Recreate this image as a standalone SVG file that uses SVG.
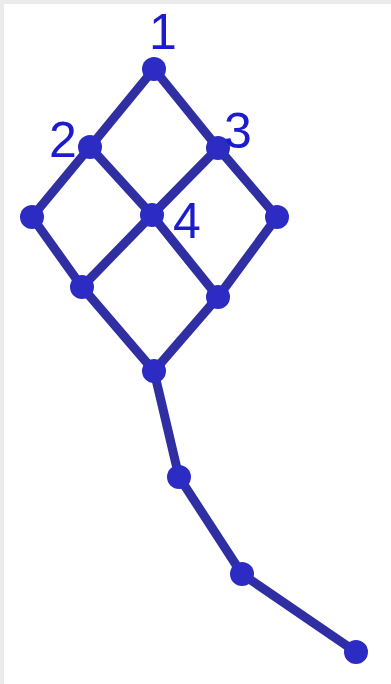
<svg xmlns="http://www.w3.org/2000/svg" width="391" height="684" viewBox="0 0 391 684">
<style>
.e{stroke:#2F2FA3;stroke-width:9;stroke-linecap:round;fill:none}
.n{fill:#2C2CC4}
.t{font-family:"Liberation Sans",Arial,sans-serif;font-size:50px;fill:#1C1CCC}
</style>
<rect width="391" height="684" fill="#EBEBEB"/>
<rect x="4" y="4" width="387" height="680" fill="#FFFFFF"/>
<g id="connectors">
<line class="e" x1="154" y1="69" x2="90" y2="147"/>
<line class="e" x1="154" y1="69" x2="218" y2="148"/>
<line class="e" x1="90" y1="147" x2="32" y2="217"/>
<line class="e" x1="90" y1="147" x2="152" y2="215"/>
<line class="e" x1="218" y1="148" x2="152" y2="215"/>
<line class="e" x1="218" y1="148" x2="277" y2="217"/>
<line class="e" x1="32" y1="217" x2="82" y2="287"/>
<line class="e" x1="152" y1="215" x2="82" y2="287"/>
<line class="e" x1="152" y1="215" x2="218" y2="297"/>
<line class="e" x1="277" y1="217" x2="218" y2="297"/>
<line class="e" x1="82" y1="287" x2="154" y2="371"/>
<line class="e" x1="218" y1="297" x2="154" y2="371"/>
<line class="e" x1="154" y1="371" x2="179" y2="477"/>
<line class="e" x1="179" y1="477" x2="242" y2="574"/>
<line class="e" x1="242" y1="574" x2="356" y2="652"/>
</g>
<g id="n1"><circle class="n" cx="154" cy="69" r="12"/><text class="t" x="163" y="49" text-anchor="middle">1</text></g>
<g id="n2"><circle class="n" cx="90" cy="147" r="12"/><text class="t" x="63" y="157" text-anchor="middle">2</text></g>
<g id="n3"><circle class="n" cx="218" cy="148" r="12"/><text class="t" x="238" y="148" text-anchor="middle">3</text></g>
<g id="n4"><circle class="n" cx="152" cy="215" r="12"/><text class="t" x="187" y="238" text-anchor="middle">4</text></g>
<g id="n5"><circle class="n" cx="32" cy="217" r="12"/></g>
<g id="n6"><circle class="n" cx="277" cy="217" r="12"/></g>
<g id="n7"><circle class="n" cx="82" cy="287" r="12"/></g>
<g id="n8"><circle class="n" cx="218" cy="297" r="12"/></g>
<g id="n9"><circle class="n" cx="154" cy="371" r="12"/></g>
<g id="n10"><circle class="n" cx="179" cy="477" r="12"/></g>
<g id="n11"><circle class="n" cx="242" cy="574" r="12"/></g>
<g id="n12"><circle class="n" cx="356" cy="652" r="12"/></g>
</svg>
